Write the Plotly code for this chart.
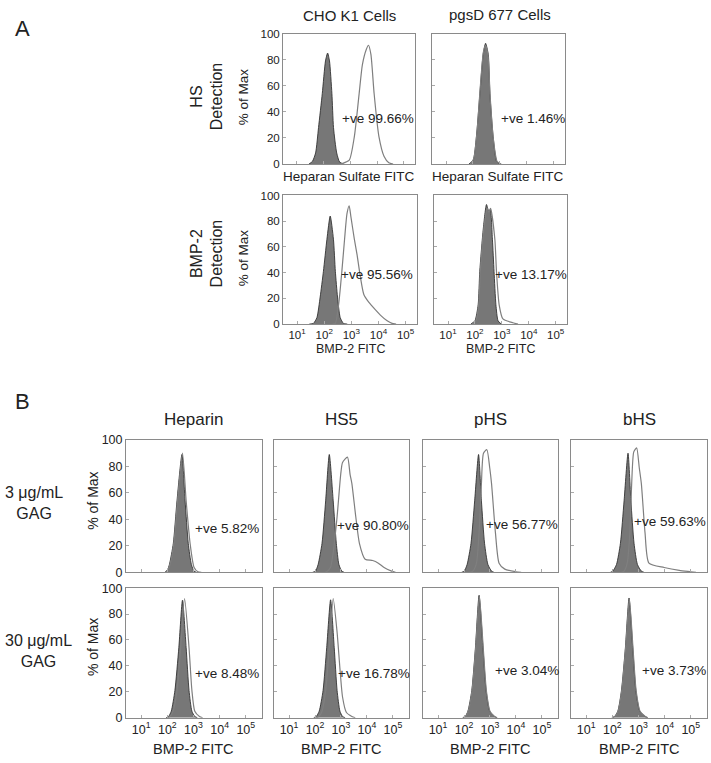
import plotly.graph_objects as go

W, H = 711, 763
FONT = "Liberation Sans, Arial, sans-serif"

# ---------------- data: log10(fluorescence) vs % of Max ----------------
# Panel A, HS detection, CHO K1
cho_hs_ctrl_lx = [1.45, 1.58, 1.70, 1.81, 1.95, 2.07, 2.15, 2.22, 2.31, 2.37, 2.49, 2.60, 2.75]
cho_hs_ctrl_y = [0, 2, 8.5, 28, 54, 79, 85, 79, 54, 28, 8.5, 1.5, 0]
cho_hs_samp_lx = [2.60, 2.71, 2.96, 3.15, 3.33, 3.45, 3.60, 3.68, 3.77, 3.89, 4.07, 4.26, 4.44, 4.60]
cho_hs_samp_y = [0, 0.5, 3, 21, 54, 76, 88, 91, 84, 54, 21, 6, 1, 0]
# Panel A, HS detection, pgsD 677
pgs_hs_ctrl_lx = [1.85, 2.01, 2.13, 2.26, 2.38, 2.47, 2.57, 2.63, 2.75, 2.88, 3.00]
pgs_hs_ctrl_y = [0, 3, 21, 54, 84, 92.5, 84, 54, 21, 2, 0]
pgs_hs_samp_lx = [1.90, 2.03, 2.15, 2.27, 2.39, 2.47, 2.56, 2.64, 2.76, 2.90, 3.05]
pgs_hs_samp_y = [0, 4, 24, 58, 86, 91, 83, 52, 19, 2, 0]
# Panel A, BMP-2 detection, CHO K1
cho_bmp_ctrl_lx = [1.45, 1.60, 1.73, 1.85, 1.97, 2.10, 2.22, 2.34, 2.41, 2.49, 2.59, 2.71, 2.85]
cho_bmp_ctrl_y = [0, 0.5, 5, 21, 41, 66, 84, 66, 41, 21, 5, 0.5, 0]
cho_bmp_samp_lx = [2.30, 2.41, 2.53, 2.65, 2.75, 2.84, 2.92, 2.98, 3.11, 3.21, 3.33, 3.46, 3.64,
                   3.89, 4.07, 4.32, 4.50, 4.65]
cho_bmp_samp_y = [0, 0.5, 15, 41, 66, 86, 92, 84, 66, 54, 37, 23, 17, 11, 7, 2.5, 0.5, 0]
# Panel A, BMP-2 detection, pgsD 677
pgs_bmp_ctrl_lx = [1.85, 2.00, 2.12, 2.18, 2.31, 2.43, 2.51, 2.57, 2.65, 2.71, 2.78, 2.86, 2.98]
pgs_bmp_ctrl_y = [0, 2.5, 15, 41, 74, 93, 88, 89, 66, 41, 15, 2.5, 0]
pgs_bmp_samp_lx = [1.90, 2.03, 2.14, 2.20, 2.33, 2.45, 2.52, 2.58, 2.74, 2.80, 2.90, 3.04, 3.41, 3.60]
pgs_bmp_samp_y = [0, 2.5, 15, 41, 74, 90, 87, 90, 66, 41, 15, 4, 1, 0]

# Panel B, 3 ug/mL GAG
hep3_ctrl_lx = [1.90, 2.01, 2.08, 2.23, 2.37, 2.56, 2.68, 2.80, 2.92, 3.02, 3.12]
hep3_ctrl_y = [0, 2, 6, 22, 54, 89, 54, 22, 6, 1, 0]
hep3_samp_lx = [1.92, 2.02, 2.10, 2.25, 2.39, 2.58, 2.72, 2.87, 3.02, 3.17, 3.30]
hep3_samp_y = [0, 2, 6, 22, 54, 90, 54, 22, 4, 0.5, 0]
hs53_ctrl_lx = [1.90, 2.02, 2.12, 2.27, 2.41, 2.55, 2.70, 2.82, 2.92, 3.03, 3.13]
hs53_ctrl_y = [0, 1, 6, 22, 54, 89, 54, 22, 6, 1, 0]
hs53_samp_lx = [2.38, 2.48, 2.60, 2.70, 2.85, 2.99, 3.06, 3.25, 3.35, 3.42, 3.57, 3.71, 3.93,
                4.22, 4.44, 4.66, 4.95, 5.10]
hs53_samp_y = [0, 1, 4, 15, 42, 74, 83, 87, 74, 67, 42, 22, 10, 9, 7, 3.7, 1, 0]
phs3_ctrl_lx = [1.90, 2.01, 2.12, 2.27, 2.41, 2.56, 2.67, 2.79, 2.92, 3.06, 3.16]
phs3_ctrl_y = [0, 1, 6, 22, 54, 89, 54, 22, 6, 1, 0]
phs3_samp_lx = [2.22, 2.34, 2.48, 2.58, 2.67, 2.75, 2.88, 2.99, 3.06, 3.21, 3.35, 3.57, 4.00, 4.20]
phs3_samp_y = [0, 1, 7, 30, 67, 90, 92.6, 79, 67, 30, 7, 2.5, 0.5, 0]
bhs3_ctrl_lx = [1.92, 2.02, 2.16, 2.31, 2.45, 2.60, 2.71, 2.83, 2.96, 3.11, 3.22]
bhs3_ctrl_y = [0, 1, 6, 22, 54, 90, 54, 22, 6, 1, 0]
bhs3_samp_lx = [2.35, 2.45, 2.57, 2.67, 2.74, 2.82, 2.93, 3.03, 3.11, 3.25, 3.40, 3.98, 4.56, 5.00, 5.20]
bhs3_samp_y = [0, 1, 7, 30, 67, 91, 94, 79, 67, 30, 7, 3.7, 1.5, 0.5, 0]

# Panel B, 30 ug/mL GAG
hep30_ctrl_lx = [1.95, 2.05, 2.15, 2.29, 2.44, 2.58, 2.72, 2.83, 2.94, 3.05, 3.15]
hep30_ctrl_y = [0, 1, 5, 21, 54, 90.7, 54, 21, 5, 1, 0]
hep30_samp_lx = [2.00, 2.10, 2.22, 2.37, 2.51, 2.66, 2.83, 2.94, 3.05, 3.23, 3.35]
hep30_samp_y = [0, 1, 5, 21, 54, 92, 54, 21, 5, 1, 0]
hs530_ctrl_lx = [1.95, 2.05, 2.16, 2.31, 2.45, 2.60, 2.74, 2.85, 2.96, 3.06, 3.16]
hs530_ctrl_y = [0, 1, 5, 21, 54, 91, 54, 21, 5, 1, 0]
hs530_samp_lx = [2.05, 2.15, 2.27, 2.41, 2.55, 2.70, 2.85, 2.96, 3.06, 3.21, 3.42, 3.55]
hs530_samp_y = [0, 1, 5, 21, 54, 92, 66, 38, 16, 4, 1, 0]
phs30_ctrl_lx = [1.95, 2.05, 2.15, 2.30, 2.44, 2.58, 2.73, 2.85, 2.99, 3.17, 3.27]
phs30_ctrl_y = [0, 1, 5, 21, 54, 94.5, 54, 21, 5, 1, 0]
phs30_samp_lx = [1.96, 2.06, 2.16, 2.31, 2.45, 2.59, 2.74, 2.86, 3.00, 3.18, 3.28]
phs30_samp_y = [0, 1, 5, 21, 54, 94, 54, 21, 5, 1, 0]
bhs30_ctrl_lx = [1.98, 2.09, 2.21, 2.35, 2.50, 2.64, 2.78, 2.90, 3.05, 3.25, 3.35]
bhs30_ctrl_y = [0, 1, 5, 21, 54, 92.4, 54, 21, 5, 1, 0]
bhs30_samp_lx = [1.99, 2.10, 2.22, 2.36, 2.51, 2.65, 2.79, 2.91, 3.06, 3.26, 3.36]
bhs30_samp_y = [0, 1, 5, 21, 54, 92, 54, 21, 5, 1, 0]

positive_labels_A = ["+ve 99.66%", "+ve 1.46%", "+ve 95.56%", "+ve 13.17%"]
positive_labels_B = ["+ve 5.82%", "+ve 90.80%", "+ve 56.77%", "+ve 59.63%",
                     "+ve 8.48%", "+ve 16.78%", "+ve 3.04%", "+ve 3.73%"]
col_titles_B = ["Heparin", "HS5", "pHS", "bHS"]
y_ticks = [0, 20, 40, 60, 80, 100]
x_tick_exps = [1, 2, 3, 4, 5]

# ---------------- layout helpers ----------------
def fx(p):
    return p / W

def fy(p):
    return 1 - p / H

RANGE_A = [0.48, 5.42]
RANGE_B = [0.42, 5.62]

panels = [
    # (x0, x1, y0, y1, range, ctrl, samp, label, label_x, label_y, ylabels, xlabels, tickfont)
    (283, 415, 27, 160, RANGE_A, (cho_hs_ctrl_lx, cho_hs_ctrl_y), (cho_hs_samp_lx, cho_hs_samp_y),
     positive_labels_A[0], 340, 114, True, False, 11.5),
    (432, 565, 27, 160, RANGE_A, (pgs_hs_ctrl_lx, pgs_hs_ctrl_y), (pgs_hs_samp_lx, pgs_hs_samp_y),
     positive_labels_A[1], 499, 114, False, False, 11.5),
    (283, 417, 192, 323, RANGE_A, (cho_bmp_ctrl_lx, cho_bmp_ctrl_y), (cho_bmp_samp_lx, cho_bmp_samp_y),
     positive_labels_A[2], 339, 273, True, True, 11.5),
    (434, 567, 192, 323, RANGE_A, (pgs_bmp_ctrl_lx, pgs_bmp_ctrl_y), (pgs_bmp_samp_lx, pgs_bmp_samp_y),
     positive_labels_A[3], 493, 273, False, True, 11.5),
]

colsB = [(126, 262), (274, 409), (423, 558), (571, 707)]
rowsB = [(441, 576), (592, 724)]
dataB = [
    [(hep3_ctrl_lx, hep3_ctrl_y), (hep3_samp_lx, hep3_samp_y)],
    [(hs53_ctrl_lx, hs53_ctrl_y), (hs53_samp_lx, hs53_samp_y)],
    [(phs3_ctrl_lx, phs3_ctrl_y), (phs3_samp_lx, phs3_samp_y)],
    [(bhs3_ctrl_lx, bhs3_ctrl_y), (bhs3_samp_lx, bhs3_samp_y)],
    [(hep30_ctrl_lx, hep30_ctrl_y), (hep30_samp_lx, hep30_samp_y)],
    [(hs530_ctrl_lx, hs530_ctrl_y), (hs530_samp_lx, hs530_samp_y)],
    [(phs30_ctrl_lx, phs30_ctrl_y), (phs30_samp_lx, phs30_samp_y)],
    [(bhs30_ctrl_lx, bhs30_ctrl_y), (bhs30_samp_lx, bhs30_samp_y)],
]
labB_pos = [(193, 531), (335, 528), (484, 527), (632, 524),
            (193, 679), (336, 679), (493, 676), (640, 676)]
for r, (ry0, ry1) in enumerate(rowsB):
    for c, (cx0, cx1) in enumerate(colsB):
        k = r * 4 + c
        panels.append((cx0, cx1, ry0, ry1, RANGE_B, dataB[k][0], dataB[k][1],
                       positive_labels_B[k], labB_pos[k][0], labB_pos[k][1],
                       c == 0, r == 1, 12.5))

fig = go.Figure()
layout = {}
annotations = []

for i, (x0, x1, y0, y1, rng, ctrl, samp, lab, lx, ly, showy, showx, tfs) in enumerate(panels, start=1):
    xa = "x" if i == 1 else f"x{i}"
    ya = "y" if i == 1 else f"y{i}"
    fig.add_trace(go.Scatter(
        x=[10 ** v for v in ctrl[0]], y=ctrl[1], xaxis=xa, yaxis=ya,
        mode="lines", fill="tozeroy", fillcolor="#777777",
        line=dict(color="#333333", width=0.9, shape="spline", smoothing=0.6),
        hoverinfo="skip", showlegend=False))
    fig.add_trace(go.Scatter(
        x=[10 ** v for v in samp[0]], y=samp[1], xaxis=xa, yaxis=ya,
        mode="lines",
        line=dict(color="#7f7f7f", width=1.2, shape="spline", smoothing=0.6),
        hoverinfo="skip", showlegend=False))
    layout["xaxis" if i == 1 else f"xaxis{i}"] = dict(
        domain=[fx(x0), fx(x1)], type="log", range=rng, anchor=ya,
        tickvals=[10 ** e for e in x_tick_exps],
        ticktext=[f"10<sup>{e}</sup>" for e in x_tick_exps],
        showticklabels=showx, ticks="inside", ticklen=3, tickcolor="#aaaaaa",
        showline=True, mirror=True, linecolor="#8a8a8a", linewidth=1,
        showgrid=False, zeroline=False,
        tickfont=dict(size=tfs, color="#222222", family=FONT))
    layout["yaxis" if i == 1 else f"yaxis{i}"] = dict(
        domain=[fy(y1), fy(y0)], range=[0, 100], anchor=xa,
        tickvals=y_ticks, showticklabels=showy,
        ticks="inside", ticklen=3, tickcolor="#aaaaaa",
        showline=True, mirror=True, linecolor="#8a8a8a", linewidth=1,
        showgrid=False, zeroline=False,
        tickfont=dict(size=tfs, color="#222222", family=FONT))
    annotations.append(dict(text=lab, x=fx(lx), y=fy(ly), xref="paper", yref="paper",
                            xanchor="left", yanchor="middle", showarrow=False,
                            font=dict(size=13.5, color="#222222", family=FONT)))

def txt(t, x, y, size, angle=0, xanchor="center"):
    annotations.append(dict(text=t, x=fx(x), y=fy(y), xref="paper", yref="paper",
                            xanchor=xanchor, yanchor="middle", showarrow=False,
                            textangle=angle,
                            font=dict(size=size, color="#222222", family=FONT)))

# Panel A texts
txt("A", 22, 22, 22)
txt("CHO K1 Cells", 349, 9, 15)
txt("pgsD 677 Cells", 500, 8, 15)
txt("HS<br>Detection", 207, 91, 16, -90)
txt("BMP-2<br>Detection", 207, 251, 16, -90)
txt("% of Max", 243, 92, 13.5, -90)
txt("% of Max", 243, 256, 13.5, -90)
txt("Heparan Sulfate FITC", 349, 173, 13.5)
txt("Heparan Sulfate FITC", 498, 173, 13.5)
txt("BMP-2 FITC", 350, 348, 12.5)
txt("BMP-2 FITC", 500, 348, 12.5)

# Panel B texts
txt("B", 22, 402, 22)
for (cx0, cx1), t in zip(colsB, col_titles_B):
    txt(t, (cx0 + cx1) / 2, 420, 17)
txt("3 \u03bcg/mL<br>GAG", 34, 505, 16)
txt("30 \u03bcg/mL<br>GAG", 38, 656, 16)
txt("% of Max", 93, 503, 14, -90)
txt("% of Max", 93, 652, 14, -90)
for (cx0, cx1) in colsB:
    txt("BMP-2 FITC", (cx0 + cx1) / 2, 756, 14.5)

fig.update_layout(
    width=W, height=H, margin=dict(l=0, r=0, t=0, b=0),
    paper_bgcolor="white", plot_bgcolor="white",
    font=dict(family=FONT, color="#222222"),
    annotations=annotations, **layout)

fig.write_html("out.html", config={"displayModeBar": False},
               post_script="document.body.style.margin='0';document.body.style.overflow='hidden';")
